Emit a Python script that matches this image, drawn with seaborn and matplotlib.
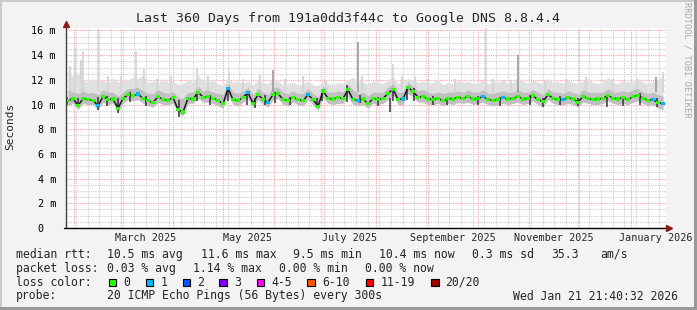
import numpy as np
import pandas as pd
import matplotlib
matplotlib.use("Agg")
import matplotlib.pyplot as plt
import seaborn as sns
from datetime import datetime
from matplotlib.patches import Rectangle
from matplotlib.ticker import FixedLocator, MultipleLocator, FuncFormatter

# ---------------- data ----------------
title = "Last 360 Days from 191a0dd3f44c to Google DNS 8.8.4.4"
start = datetime(2025, 1, 26, 21, 40, 32)
span_days = 360
sample_first_day = 1.4
sample_step_days = 3.0

median_ms = [10.3, 10.5, 9.9, 10.5, 10.4, 10.35, 9.9, 10.65, 10.4, 10.45,
             9.7, 10.5, 10.8, 10.7, 10.85, 10.5, 10.3, 10.15, 10.65, 10.4,
             10.35, 10.55, 9.6, 9.4, 10.5, 10.45, 11.0, 10.6, 10.65, 10.5,
             10.35, 10.05, 11.3, 10.4, 10.3, 10.6, 10.95, 10.1, 10.8, 10.4,
             10.2, 10.8, 10.9, 10.4, 10.35, 10.6, 10.4, 10.3, 10.8, 10.4,
             9.85, 11.1, 10.5, 10.45, 10.55, 10.5, 11.2, 10.4, 10.35, 10.45,
             10.05, 10.5, 10.4, 10.5, 10.9, 11.25, 10.4, 10.45, 11.4, 11.05,
             10.6, 10.65, 10.45, 10.4, 10.5, 10.3, 10.5, 10.45, 10.6, 10.5,
             10.65, 10.45, 10.5, 10.65, 10.4, 10.35, 10.4, 10.55, 10.45, 10.5,
             10.65, 10.45, 10.5, 10.7, 10.4, 10.25, 10.8, 10.5, 10.4, 10.4,
             10.55, 10.45, 10.2, 10.65, 10.5, 10.4, 10.45, 10.5, 10.75, 10.5,
             10.45, 10.55, 10.4, 10.65, 10.75, 10.5, 10.35, 10.4, 10.15, 10.05]

loss_pings = [0, 0, 0, 0, 0, 0, 1, 0, 0, 0,
              0, 0, 0, 0, 1, 0, 0, 0, 0, 0,
              0, 0, 0, 0, 0, 0, 0, 0, 0, 0,
              0, 0, 1, 0, 0, 0, 1, 0, 0, 0,
              1, 0, 0, 0, 0, 0, 0, 0, 1, 0,
              0, 0, 0, 0, 0, 0, 0, 0, 1, 0,
              0, 0, 0, 0, 0, 0, 0, 1, 0, 0,
              0, 0, 0, 0, 0, 0, 0, 0, 0, 0,
              0, 0, 0, 1, 0, 0, 0, 1, 0, 0,
              0, 0, 0, 0, 0, 0, 0, 0, 0, 1,
              0, 0, 0, 0, 0, 0, 0, 0, 0, 0,
              0, 0, 0, 0, 0, 0, 0, 1, 0, 1]

max_ms = [12.8, 12.3, 12.6, 12.0, 11.8, 12.1, 11.9, 12.0, 11.7, 12.2,
          11.8, 11.9, 12.0, 12.2, 12.1, 12.4, 11.8, 11.9, 11.7, 12.1,
          11.8, 11.9, 11.6, 11.7, 12.0, 11.8, 12.4, 11.9, 11.8, 12.0,
          11.7, 11.6, 12.1, 11.8, 11.9, 11.7, 11.9, 11.6, 12.0, 11.8,
          11.7, 12.2, 11.9, 11.6, 11.7, 11.8, 11.6, 11.7, 11.9, 11.6,
          11.5, 11.9, 11.7, 11.6, 11.8, 11.7, 12.0, 12.2, 11.9, 11.8,
          11.7, 11.9, 11.8, 11.7, 12.0, 12.3, 11.7, 11.9, 12.1, 12.0,
          11.8, 11.9, 11.7, 11.8, 12.0, 11.6, 11.8, 11.7, 11.9, 11.8,
          11.9, 11.7, 11.8, 12.0, 11.7, 11.9, 11.8, 12.0, 11.7, 11.8,
          12.2, 11.9, 11.7, 12.0, 11.8, 11.7, 12.1, 11.8, 11.9, 11.7,
          12.0, 11.8, 11.7, 11.9, 12.1, 11.8, 11.7, 11.9, 12.2, 11.8,
          11.7, 12.0, 11.8, 11.9, 12.1, 11.8, 11.7, 11.9, 12.0, 12.3]

upper_ms = [11.2, 11.0, 10.9, 11.1, 10.9, 11.0, 10.8, 11.2, 11.0, 11.0,
            10.7, 11.0, 11.3, 11.3, 11.4, 11.1, 10.9, 10.9, 11.2, 11.0,
            10.9, 11.1, 10.6, 10.5, 11.0, 11.0, 11.5, 11.1, 11.2, 11.0,
            10.9, 10.8, 11.7, 11.0, 10.9, 11.1, 11.4, 10.8, 11.3, 11.0,
            10.8, 11.4, 11.4, 11.0, 10.9, 11.1, 10.9, 10.9, 11.3, 10.9,
            10.6, 11.5, 11.0, 11.0, 11.1, 11.0, 11.6, 11.2, 10.9, 11.0,
            10.7, 11.0, 11.0, 11.0, 11.4, 11.7, 11.0, 11.0, 11.8, 11.5,
            11.1, 11.2, 11.0, 10.9, 11.0, 10.9, 11.0, 11.0, 11.1, 11.0,
            11.2, 11.0, 11.0, 11.2, 10.9, 10.9, 11.0, 11.1, 11.0, 11.0,
            11.2, 11.0, 11.0, 11.2, 11.0, 10.8, 11.3, 11.0, 11.0, 10.9,
            11.1, 11.0, 10.8, 11.2, 11.0, 11.0, 11.0, 11.0, 11.3, 11.0,
            11.0, 11.1, 11.0, 11.2, 11.3, 11.0, 10.9, 11.0, 10.8, 10.7]

min_ms = [9.9, 10.1, 9.6, 10.1, 10.0, 10.0, 9.6, 10.2, 10.0, 10.1,
          9.4, 10.1, 10.4, 10.3, 10.4, 10.1, 9.9, 9.8, 10.2, 10.0,
          10.0, 10.1, 9.3, 9.1, 10.1, 10.1, 10.5, 10.2, 10.2, 10.1,
          9.9, 9.7, 10.8, 10.0, 9.9, 10.2, 10.5, 9.8, 10.4, 10.0,
          9.8, 10.4, 10.5, 10.0, 9.9, 10.2, 10.0, 9.9, 10.4, 10.0,
          9.5, 10.6, 10.1, 10.0, 10.1, 10.1, 10.7, 10.0, 9.9, 10.0,
          9.7, 10.1, 10.0, 10.1, 10.4, 10.8, 10.0, 10.0, 10.9, 10.6,
          10.2, 10.2, 10.0, 10.0, 10.1, 9.9, 10.1, 10.0, 10.2, 10.1,
          10.2, 10.0, 10.1, 10.2, 10.0, 9.9, 10.0, 10.1, 10.0, 10.1,
          10.2, 10.0, 10.1, 10.3, 10.0, 9.8, 10.4, 10.1, 10.0, 10.0,
          10.1, 10.0, 9.8, 10.2, 10.1, 10.0, 10.0, 10.1, 10.3, 10.1,
          10.0, 10.1, 10.0, 10.2, 10.3, 10.1, 9.9, 10.0, 9.7, 9.6]

# isolated high pings (day since start, top in ms)
light_spike_days = [5.6, 10.4, 19.4, 42.2, 47.0, 78.8, 98.0, 196.4, 252.2, 358.4]
light_spike_top = [14.6, 14.3, 16.1, 14.3, 13.0, 13.0, 12.7, 13.3, 16.2, 12.6]
dark_spike_days = [124.4, 175.4, 271.4, 354.2]
dark_spike_top = [12.8, 15.1, 14.0, 12.2]

# smaller light streaks in the smoke (day, top ms)
streak_days = [2.6, 9.4, 25.4, 33.2, 54.8, 63.2, 85.4, 106.4, 116.6, 131.6, 142.4,
               156.2, 177.8, 201.8, 209.6, 217.4, 233.6, 256.4, 267.2, 287.6,
               300.2, 312.2, 328.4, 342.8]
streak_top = [13.1, 13.6, 12.3, 12.3, 12.1, 12.3, 12.3, 12.1, 12.4, 12.1, 12.3,
              12.0, 12.3, 12.3, 12.2, 12.1, 12.1, 12.1, 12.0, 11.9,
              12.1, 12.2, 12.1, 12.1]

# short dark strokes of the median trace (day, low ms, high ms)
stroke_days = [0.8, 7.4, 19.4, 24.8, 31.4, 38.6, 48.2, 68.0, 78.8, 86.6, 97.4,
               108.8, 113.6, 119.6, 125.6, 134.6, 150.8, 153.8, 168.8, 176.6,
               187.4, 194.6, 196.4, 204.8, 209.0, 220.4, 228.8, 247.4, 260.6,
               278.6, 286.4, 296.6, 307.4, 324.8, 334.4, 344.6, 354.8]
stroke_lo = [9.95, 9.8, 9.55, 9.9, 9.3, 10.2, 9.9, 9.0, 10.3, 9.95, 10.3,
             9.95, 9.7, 10.0, 10.1, 10.0, 9.8, 10.3, 10.2, 10.1,
             9.9, 9.4, 10.3, 10.4, 10.3, 10.0, 10.0, 10.0, 9.9,
             10.0, 9.8, 10.0, 9.9, 9.8, 9.9, 10.0, 9.8]
stroke_hi = [10.6, 10.5, 10.6, 10.7, 10.5, 11.0, 10.7, 10.4, 11.05, 10.8, 11.3,
             10.95, 10.5, 10.8, 11.0, 10.6, 10.5, 11.2, 11.6, 10.8,
             10.6, 10.5, 11.3, 11.5, 11.3, 10.7, 10.6, 10.7, 10.6,
             10.8, 10.5, 10.7, 10.5, 10.6, 10.6, 10.9, 10.5]

loss_labels = ["0", "1", "2", "3", "4-5", "6-10", "11-19", "20/20"]
loss_colors = ["#26ff00", "#00b8ff", "#0059ff", "#7e00ff", "#ff00ff",
               "#ff5500", "#ff0000", "#a10000"]

legend_median = ["median rtt:", "10.5 ms avg", "11.6 ms max", "9.5 ms min",
                 "10.4 ms now", "0.3 ms sd", "35.3", "am/s"]
legend_loss = ["packet loss:", "0.03 % avg", "1.14 % max", "0.00 % min", "0.00 % now"]
probe_text = ["probe:", "20 ICMP Echo Pings (56 Bytes) every 300s",
              "Wed Jan 21 21:40:32 2026"]

label_months = [(2025, 3, "March 2025"), (2025, 5, "May 2025"), (2025, 7, "July 2025"),
                (2025, 9, "September 2025"), (2025, 11, "November 2025"),
                (2026, 1, "January 2026")]

# ---------------- layout ----------------
W, H = 697, 310
MONO = "DejaVu Sans Mono"
sns.set_style("white")
plt.rcParams["font.family"] = [MONO, "DejaVu Sans"]

def days_of(d):
    return (d - start).total_seconds() / 86400.0

n = len(median_ms)
days = sample_first_day + sample_step_days * np.arange(n)
df = pd.DataFrame({"day": days, "median": median_ms, "loss": loss_pings,
                   "max": max_ms, "upper": upper_ms, "min": min_ms})

fig = plt.figure(figsize=(W / 100, H / 100), dpi=100, facecolor="#f3f3f3")
ax = fig.add_axes([65.7 / W, 82 / H, 600 / W, 200 / H])
ax.set_facecolor("white")
ax.set_xlim(0, span_days)
ax.set_ylim(0, 16.2)

month_days = []
for y, m in [(2025, mm) for mm in range(2, 13)] + [(2026, 1)]:
    month_days.append(days_of(datetime(y, m, 1)))
week_days = []
d0 = days_of(datetime(2025, 2, 2))
k = 0
while d0 + 7 * k < span_days:
    week_days.append(d0 + 7 * k)
    k += 1

ax.xaxis.set_major_locator(FixedLocator(month_days))
ax.xaxis.set_minor_locator(FixedLocator(week_days))
ax.yaxis.set_major_locator(MultipleLocator(2))
ax.yaxis.set_minor_locator(MultipleLocator(0.5))
ax.set_xticklabels([])
ax.yaxis.set_major_formatter(FuncFormatter(lambda v, p: "0  " if v == 0 else f"{v:.0f} m"))

ax.grid(which="minor", color="#cccccc", linestyle=(0, (1, 1)), linewidth=0.8)
ax.grid(which="major", color="#f2a4a4", linestyle=(0, (1, 1)), linewidth=0.8)
ax.set_axisbelow(True)
ax.tick_params(axis="y", which="major", length=3, width=0.8, color="#404040",
               pad=4, labelsize=7.3, labelcolor="black")
ax.tick_params(axis="y", which="minor", length=2, width=0.6, color="#b0b0b0")
ax.tick_params(axis="x", which="major", length=2, width=0.8, color="#f08080", direction="out")
ax.tick_params(axis="x", which="minor", length=2, width=0.6, color="#c0c0c0", direction="out")
for s in ax.spines.values():
    s.set_visible(False)

# smoke
ax.fill_between(df["day"], df["min"], df["max"], color="#e0e0e0", lw=0, zorder=2)
ax.vlines(streak_days, 11.0, streak_top, color="#d6d6d6", lw=1.6, zorder=2)
ax.vlines(light_spike_days, 11.0, light_spike_top, color="#d4d4d4", lw=1.2, zorder=2)
ax.fill_between(df["day"], df["min"], df["upper"], color="#c0c0c0", lw=0, zorder=3)
ax.vlines(dark_spike_days, 11.0, dark_spike_top, color="#9a9a9a", lw=1.2, zorder=3)
ax.vlines(stroke_days, stroke_lo, stroke_hi, color="#333333", lw=1.1, zorder=4)

# median line + loss colour markers
sns.lineplot(data=df, x="day", y="median", color="#1a1a1a", lw=1.1, ax=ax, zorder=4)
df["loss_col"] = [loss_colors[v] for v in df["loss"]]
sns.scatterplot(data=df, x="day", y="median", hue="loss_col",
                palette={c: c for c in loss_colors}, marker="s", s=5,
                linewidth=0, legend=False, ax=ax, zorder=5)
ax.set_xlabel("")
ax.set_ylabel("")

# axes lines with arrows
ax.plot([0, 0], [0, 16.45], color="#404040", lw=1.0, clip_on=False, zorder=6)
ax.plot([-1.2, 361.5], [0, 0], color="black", lw=1.0, clip_on=False, zorder=6)
ax.plot([0], [16.55], marker="^", color="#8b1a1a", ms=4.5, clip_on=False, zorder=7)
ax.plot([362.2], [0], marker=">", color="#8b1a1a", ms=4.5, clip_on=False, zorder=7)

for y, m, lab in label_months:
    ax.text(days_of(datetime(y, m, 16)), -0.048, lab, transform=ax.get_xaxis_transform(),
            ha="center", va="center", fontsize=7.3, family=MONO)

def ftxt(x, y, s, **kw):
    fig.text(x / W, 1 - y / H, s, family=MONO, **kw)

ftxt(347.5, 18.5, title, fontsize=9.5, ha="center", va="center")
ftxt(10, 126, "Seconds", fontsize=8, rotation=90, ha="center", va="center")
ftxt(687, 60, "RRDTOOL / TOBI OETIKER", fontsize=6.2, rotation=-90,
     ha="center", va="center", color="#a8a8a8")

lx = [16, 107, 201, 293, 379, 472, 551, 600]
for x, s in zip(lx, legend_median):
    ftxt(x, 254.3, s, fontsize=8.3, va="center")
for x, s in zip([16, 107, 193, 279, 365], legend_loss):
    ftxt(x, 268.3, s, fontsize=8.3, va="center")
ftxt(16, 282.3, "loss color:", fontsize=8.3, va="center")
box_x = [108.7, 145.7, 182.7, 219.3, 256.7, 307.3, 365.7, 431.0]
for bx, lab, col in zip(box_x, loss_labels, loss_colors):
    fig.patches.append(Rectangle((bx / W, 1 - 286.3 / H), 7.5 / W, 7.5 / H,
                                 transform=fig.transFigure, facecolor=col,
                                 edgecolor="black", lw=0.8))
    ftxt(bx + 14.6, 282.3, lab, fontsize=8.3, va="center")
for x, s in zip([16, 107, 513], probe_text):
    ftxt(x, 296, s, fontsize=8.3, va="center")

fig.patches.append(Rectangle((0, 1 - 2 / H), 1, 2 / H, transform=fig.transFigure,
                             facecolor="#cbcbcb", lw=0))
fig.patches.append(Rectangle((0, 0), 2 / W, 1, transform=fig.transFigure,
                             facecolor="#cbcbcb", lw=0))
fig.patches.append(Rectangle((0, 0), 1, 3 / H, transform=fig.transFigure,
                             facecolor="#999999", lw=0))
fig.patches.append(Rectangle((1 - 3 / W, 0), 3 / W, 1, transform=fig.transFigure,
                             facecolor="#999999", lw=0))

fig.savefig("out.png", dpi=100, facecolor=fig.get_facecolor())
